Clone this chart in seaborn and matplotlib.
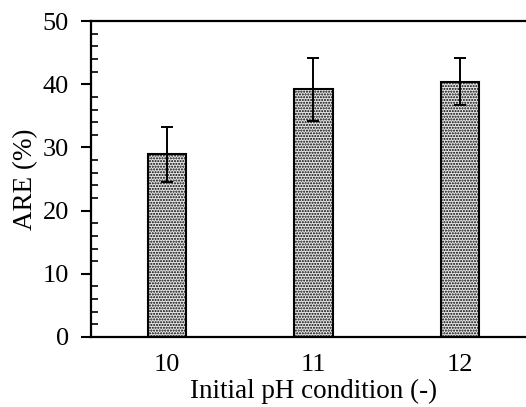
import numpy as np
import pandas as pd
import matplotlib
matplotlib.use("Agg")
import matplotlib.pyplot as plt
from matplotlib.ticker import MultipleLocator
import seaborn as sns

# dados
ph_labels = ["10", "11", "12"]
are_mean = [28.9, 39.2, 40.4]
are_err = [4.35, 5.0, 3.7]

sns.set_style("ticks", {'axes.edgecolor': 'black', 'text.color': 'black',
                        'xtick.color': 'black', 'ytick.color': 'black',
                        'axes.labelcolor': 'black'})
plt.rcParams['font.family'] = ['Liberation Serif', 'DejaVu Serif']
plt.rcParams['hatch.color'] = '#404040'
plt.rcParams['hatch.linewidth'] = 1.0

df = pd.DataFrame({'ph': ph_labels, 'are': are_mean})

fig = plt.figure(figsize=(5.26, 4.07), dpi=100)
ax = fig.add_axes([0.173, 0.172, 1.019 - 0.173, 0.948 - 0.172])

sns.barplot(data=df, x='ph', y='are', order=ph_labels, width=0.26,
            color='#e6e6e6', edgecolor='black', linewidth=1.5,
            hatch='......', errorbar=None, ax=ax)
for p in ax.patches:
    p.set_facecolor('#e6e6e6')

ax.errorbar(np.arange(len(ph_labels)), are_mean, yerr=are_err, fmt='none',
            ecolor='black', elinewidth=1.4, capsize=4.5, capthick=1.4)

ax.set_xlim(-0.52, 2.52)
ax.set_ylim(0, 50)
ax.yaxis.set_major_locator(MultipleLocator(10))
ax.yaxis.set_minor_locator(MultipleLocator(2))
ax.tick_params(axis='y', which='major', direction='out', length=7, width=1.5,
               labelsize=19, pad=9)
ax.tick_params(axis='y', which='minor', direction='in', length=5, width=1.2)
ax.tick_params(axis='x', which='both', length=0, labelsize=19, pad=12)

for s in ['left', 'bottom', 'top', 'right']:
    ax.spines[s].set_linewidth(1.6)

ax.set_ylabel('ARE (%)', fontsize=19.5, labelpad=3)
ax.set_xlabel('Initial pH condition (-)', fontsize=19.5, labelpad=2)

fig.savefig('out.png', dpi=100)
